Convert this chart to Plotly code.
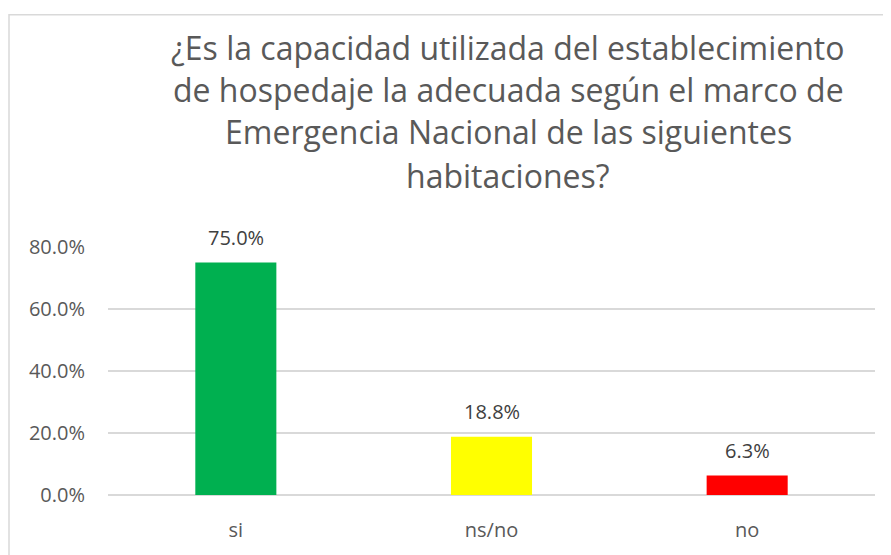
import plotly.graph_objects as go

categories = ["si", "ns/no", "no"]
values = [0.75, 0.188, 0.063]
colors = ["#00B050", "#FFFF00", "#FF0000"]
title_lines = [
    "¿Es la capacidad utilizada del establecimiento",
    "de hospedaje la adecuada según el marco de",
    "Emergencia Nacional de las siguientes",
    "habitaciones?",
]
y_ticks = [0, 0.2, 0.4, 0.6, 0.8]

OFF = 8  # page body margin
W, H = 891 - OFF, 555 - OFF
L, T = 108 - OFF, 247 - OFF
R = W - (875 - OFF)
B = H - (499 - OFF)
PW, PH = W - L - R, H - T - B

fig = go.Figure(go.Bar(
    x=categories, y=values, marker_color=colors, marker_line_width=0,
    cliponaxis=False, width=0.317, hoverinfo="x+y",
))

annotations = []
for c, v in zip(categories, values):
    annotations.append(dict(
        x=c, y=v, xref="x", yref="y", text=f"{v:.1%}", showarrow=False,
        xanchor="center", yanchor="middle", yshift=25,
        font=dict(size=20, color="#404040", family="Open Sans"),
    ))

line_y = [44, 87, 130, 174]
for t, yy in zip(title_lines, line_y):
    annotations.append(dict(
        text=t, xref="paper", yref="paper",
        x=(508 - OFF - L) / PW, y=(H - B - (yy - OFF)) / PH,
        xanchor="center", yanchor="middle", showarrow=False,
        font=dict(size=32, color="#595959", family="Open Sans"),
    ))

fig.update_layout(
    width=W, height=H,
    margin=dict(l=L, r=R, t=T, b=B, pad=0),
    paper_bgcolor="white", plot_bgcolor="white",
    showlegend=False,
    annotations=annotations,
    font=dict(family="Open Sans", color="#595959", size=20),
    xaxis=dict(showgrid=False, showline=False, ticks="", ticklabelstandoff=21,
               tickfont=dict(size=20, color="#595959")),
    yaxis=dict(range=[0, 0.8], tickvals=y_ticks, tickformat=".1%",
               showgrid=True, gridcolor="#D9D9D9", gridwidth=1.5,
               zeroline=True, zerolinecolor="#D9D9D9", zerolinewidth=1.5,
               showline=False, ticks="", ticklabelstandoff=22,
               tickfont=dict(size=20, color="#595959")),
    shapes=[dict(type="rect", xref="paper", yref="paper",
                 x0=(9 - OFF - L) / PW, x1=1.5,
                 y0=-0.5, y1=(H - B - (11 - OFF)) / PH,
                 line=dict(color="#D9D9D9", width=1.5), layer="below")],
)

fig.write_html("out.html")
